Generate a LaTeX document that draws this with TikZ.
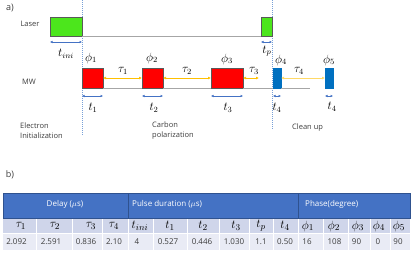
\documentclass[tikz,border=0pt]{standalone}
\usepackage{fontspec}
\setsansfont{Open Sans}
\usetikzlibrary{arrows.meta}
\definecolor{dash}{RGB}{120,160,215}
\definecolor{tblue}{RGB}{68,114,196}
\definecolor{gold}{RGB}{255,192,0}
\definecolor{laserg}{RGB}{76,230,28}
\definecolor{mwblue}{RGB}{0,112,192}
\definecolor{hdr}{RGB}{68,114,196}
\definecolor{hdrline}{RGB}{47,82,143}
\definecolor{rowa}{RGB}{207,213,234}
\definecolor{rowb}{RGB}{233,235,245}
\definecolor{txt}{RGB}{60,60,60}
\begin{document}
\begin{tikzpicture}[x=1pt,y=-1pt,
  lbl/.style={font=\sffamily\fontsize{7.5}{9}\selectfont, text=txt, inner sep=0pt},
  mlbl/.style={font=\fontsize{12}{14}\selectfont, inner sep=0pt},
  pulse/.style={draw=gray!70!black, line width=0.4pt, inner sep=0pt, outer sep=0pt, anchor=south west},
  base/.style={draw=gray!70, line width=0.8pt},
  vdash/.style={draw=dash, dash pattern=on 1pt off 1pt, line width=0.6pt},
  tarrow/.style={draw=tblue, line width=0.6pt, {Latex[length=2.5pt,width=2.5pt]}-{Latex[length=2.5pt,width=2.5pt]}},
  tauarrow/.style={draw=gold, line width=0.7pt, {Latex[length=3pt,width=3pt]}-{Latex[length=3pt,width=3pt]}},
  hdrtxt/.style={font=\sffamily\fontsize{8}{10}\selectfont, text=white, inner sep=0pt},
  dat/.style={font=\sffamily\fontsize{8}{10}\selectfont, text=txt, inner sep=0pt},
  sym/.style={font=\fontsize{12.5}{14}\selectfont, inner sep=0pt}
]
\useasboundingbox (0,0) rectangle (415,260);

% ---------- part a ----------
\node[lbl, font=\sffamily\fontsize{9}{11}\selectfont] (la) at (10,8) {a)};
\node[lbl] (laser) at (30,24) {Laser};
\node[lbl] (mw) at (29,82) {MW};

% dashed verticals
\coordinate (d1t) at (82,0); \coordinate (d1b) at (82,135);
\coordinate (d2t) at (272,0); \coordinate (d2b) at (272,130);
\draw[vdash] (d1t) -- (d1b);
\draw[vdash] (d2t) -- (d2b);

% laser pulses
\node[pulse, fill=laserg, minimum width=32pt, minimum height=19pt] (g1) at (50,36) {};
\node[pulse, fill=laserg, minimum width=11pt, minimum height=19pt] (g2) at (261,36) {};
\draw[base] (g1.south east) -- (g2.south west);

% MW pulses
\node[pulse, fill=red, minimum width=21pt, minimum height=20pt] (p1) at (82,88) {};
\node[pulse, fill=red, minimum width=21pt, minimum height=20pt] (p2) at (142,88) {};
\node[pulse, fill=red, minimum width=32pt, minimum height=20pt] (p3) at (211,88) {};
\node[pulse, fill=mwblue, draw=mwblue, minimum width=8pt, minimum height=20pt] (p4) at (273,88) {};
\node[pulse, fill=mwblue, draw=mwblue, minimum width=8pt, minimum height=20pt] (p5) at (325,88) {};
\coordinate (mwend) at (310,88);
\draw[base] (p1.south east) -- (p2.south west);
\draw[base] (p2.south east) -- (p3.south west);
\draw[base] (p3.south east) -- (p4.south west);
\draw[base] (p4.south east) -- (mwend);

% phases
\node[mlbl] (ph1) at (91,58) {$\phi_1$};
\node[mlbl] (ph2) at (152,58) {$\phi_2$};
\node[mlbl] (ph3) at (227,59) {$\phi_3$};
\node[mlbl] (ph4) at (281,60) {$\phi_4$};
\node[mlbl] (ph5) at (329,60) {$\phi_5$};

% tau arrows
\coordinate (tau3end) at (259,78);
\draw[tauarrow] (p1.east) -- (p2.west);
\draw[tauarrow] (p2.east) -- (p3.west);
\draw[tauarrow] (p3.east) -- (tau3end);
\draw[tauarrow, draw=gold!60] (p4.east) -- (p5.west);
\node[mlbl] (ta1) at (123,71) {$\tau_1$};
\node[mlbl] (ta2) at (187,71) {$\tau_2$};
\node[mlbl] (ta3) at (254,71) {$\tau_3$};
\node[mlbl] (ta4) at (299,71) {$\tau_4$};

% duration arrows
\draw[tarrow] ([yshift=-6pt]g1.south west) -- ([yshift=-6pt]g1.south east);
\draw[tarrow] ([yshift=-6pt]g2.south west) -- ([yshift=-6pt]g2.south east);
\node[mlbl] (tini) at (66,54) {$t_{ini}$};
\node[mlbl] (tp) at (267,51) {$t_p$};
\draw[tarrow] ([yshift=-8pt]p1.south west) -- ([yshift=-8pt]p1.south east);
\draw[tarrow] ([yshift=-8pt]p2.south west) -- ([yshift=-8pt]p2.south east);
\draw[tarrow] ([yshift=-8pt]p3.south west) -- ([yshift=-8pt]p3.south east);
\draw[tarrow] ([yshift=-8pt]p4.south west) -- ([yshift=-8pt]p4.south east);
\draw[tarrow] ([yshift=-8pt]p5.south west) -- ([yshift=-8pt]p5.south east);
\node[mlbl] (t1) at (93,108) {$t_1$};
\node[mlbl] (t2) at (154,108) {$t_2$};
\node[mlbl] (t3) at (228,108) {$t_3$};
\node[mlbl] (t4a) at (277,108) {$t_4$};
\node[mlbl] (t4b) at (332,107) {$t_4$};

% stage labels
\node[lbl, align=left, anchor=west] (st1) at (20,131) {Electron\\[1pt]Initialization};
\node[lbl, align=left, anchor=west] (st2) at (152,131) {Carbon\\[1pt]polarization};
\node[lbl, anchor=west] (st3) at (292,128) {Clean up};

% ---------- part b ----------
\node[lbl, font=\sffamily\fontsize{9}{11}\selectfont] (lb) at (10,175) {b)};

% rows background
\fill[rowa] (3,218) rectangle (410,233);
\fill[rowb] (3,233) rectangle (410,250);
\foreach \xx in {36,72,102,128,153,187,219,249,273,298,323,348,370,390}
  \draw[white, line width=0.8pt] (\xx,218) -- (\xx,250);
\draw[white, line width=0.8pt] (3,233) -- (410,233);
% header
\fill[hdr] (3,193) rectangle (410,218);
\draw[hdrline, line width=0.9pt] (3,193) rectangle (410,218);
\draw[hdrline, line width=0.9pt] (128,193) -- (128,218);
\draw[hdrline, line width=0.9pt] (298,193) -- (298,218);
\node[hdrtxt] (hd) at (65,204) {Delay ($\mu$s)};
\node[hdrtxt, anchor=west] (hp) at (132,204) {Pulse duration ($\mu$s)};
\node[hdrtxt, anchor=west] (hph) at (305,204) {Phase(degree)};

% symbols
\foreach \sx/\s [count=\i] in {21/\tau_1, 55/\tau_2, 91/\tau_3, 114/\tau_4, 140/t_{ini}, 170/t_1, 203/t_2, 236/t_3, 261/t_p, 285/t_4, 308/\phi_1, 334/\phi_2, 358/\phi_3, 379/\phi_4, 399/\phi_5}
  \node[sym] (s\i) at (\sx,226) {$\s$};
% data
\foreach \dx/\d [count=\i] in {16.5/2.092, 51/2.591, 86/0.836, 114/2.10, 137/4, 168/0.527, 202/0.446, 234/1.030, 261/1.1, 285/0.50, 307/16, 334.5/108, 356.5/90, 378/0, 398/90}
  \node[dat] (v\i) at (\dx,242) {\d};
\end{tikzpicture}
\end{document}
